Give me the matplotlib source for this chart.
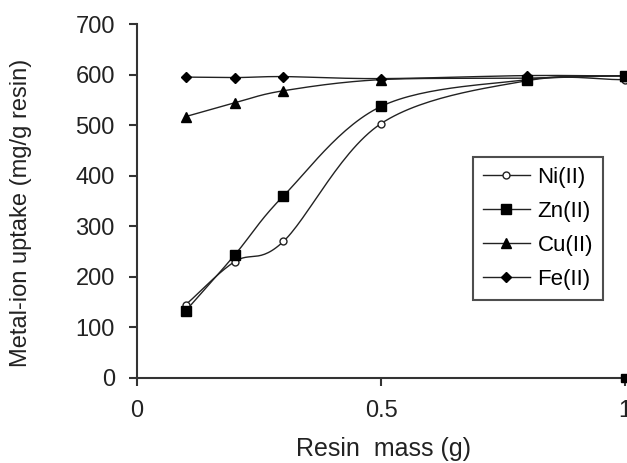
import numpy as np
import matplotlib
matplotlib.use("Agg")
import matplotlib.pyplot as plt

plt.rcParams['font.family'] = ['Liberation Sans', 'DejaVu Sans']

resin_mass = [0.1, 0.2, 0.3, 0.5, 0.8, 1.0]
ni = [145, 230, 270, 503, 588, 590]
zn = [133, 243, 360, 537, 590, 598]
cu = [517, 544, 568, 590, 593, 598]
fe = [595, 594, 596, 592, 598, 597]
stray_x = [1.0]
stray_y = [0]

def smooth(x, y, n=30):
    # Catmull-Rom style smoothing (like spreadsheet smoothed lines)
    x = np.asarray(x, float); y = np.asarray(y, float)
    px = np.concatenate([[2*x[0]-x[1]], x, [2*x[-1]-x[-2]]])
    py = np.concatenate([[2*y[0]-y[1]], y, [2*y[-1]-y[-2]]])
    xs, ys = [], []
    for i in range(1, len(px)-2):
        t = np.linspace(0, 1, n)
        p0x, p1x, p2x, p3x = px[i-1], px[i], px[i+1], px[i+2]
        p0y, p1y, p2y, p3y = py[i-1], py[i], py[i+1], py[i+2]
        t2, t3 = t*t, t*t*t
        xs.append(0.5*((2*p1x) + (-p0x+p2x)*t + (2*p0x-5*p1x+4*p2x-p3x)*t2 + (-p0x+3*p1x-3*p2x+p3x)*t3))
        ys.append(0.5*((2*p1y) + (-p0y+p2y)*t + (2*p0y-5*p1y+4*p2y-p3y)*t2 + (-p0y+3*p1y-3*p2y+p3y)*t3))
    return np.concatenate(xs), np.concatenate(ys)

fig = plt.figure(figsize=(6.27, 4.63), dpi=100)
ax = fig.add_axes([137/627, 85/463, 488/627, 354/463])

lc = '#222222'
series = [
    ('Ni(II)', ni, dict(marker='o', markersize=5, markerfacecolor='white', markeredgecolor=lc, markeredgewidth=1.0)),
    ('Zn(II)', zn, dict(marker='s', markersize=7, markerfacecolor='black', markeredgecolor='black')),
    ('Cu(II)', cu, dict(marker='^', markersize=7.5, markerfacecolor='black', markeredgecolor='black')),
    ('Fe(II)', fe, dict(marker='D', markersize=5.5, markerfacecolor='black', markeredgecolor='black')),
]
for label, ys, mk in series:
    sx, sy = smooth(resin_mass, ys)
    ax.plot(sx, sy, color=lc, lw=1.0, zorder=2)
    ax.plot(resin_mass, ys, linestyle='none', zorder=3, clip_on=False, **mk)
    ax.plot([], [], color=lc, lw=1.0, label=label, **mk)

ax.plot(stray_x, stray_y, linestyle='none', marker='s', markersize=6, color='black', clip_on=False, zorder=4)

ax.set_xlim(0, 1)
ax.set_ylim(0, 700)
ax.set_xticks([0, 0.5, 1])
ax.set_xticklabels(['0', '0.5', '1'])
ax.set_yticks(range(0, 701, 100))
for s in ['top', 'right']:
    ax.spines[s].set_visible(False)
for s in ['left', 'bottom']:
    ax.spines[s].set_linewidth(1.5)
    ax.spines[s].set_color('#333333')
ax.tick_params(direction='out', length=6, width=1.5, color='#333333', labelsize=17, labelcolor='#222222')
ax.tick_params(axis='y', pad=10)
ax.tick_params(axis='x', pad=10)

ax.set_xlabel('Resin  mass (g)', fontsize=18, color='#222222')
ax.set_ylabel('Metal-ion uptake (mg/g resin)', fontsize=17, color='#222222')
ax.xaxis.set_label_coords(0.505, -0.168)
ax.yaxis.set_label_coords(-0.215, 0.466)

leg = ax.legend(loc='upper left', bbox_to_anchor=((473-137)/488, (378-157)/354), frameon=True,
                fancybox=False, edgecolor='#222222', fontsize=16, handlelength=2.1,
                handletextpad=0.35, borderpad=0.45, labelspacing=0.58, borderaxespad=0)
leg.get_frame().set_linewidth(1.5)

fig.savefig('out.png', dpi=100)
